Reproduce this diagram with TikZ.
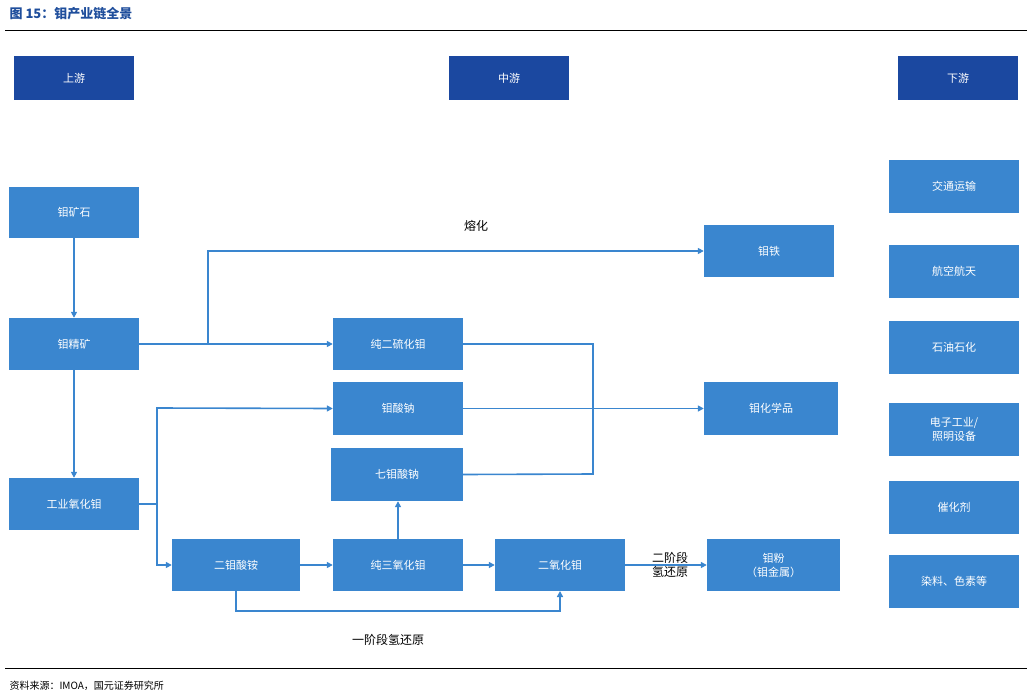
\documentclass[tikz,border=0pt]{standalone}
\usepackage{fontspec}
\setmainfont{Noto Sans CJK SC}
\usetikzlibrary{arrows.meta}
\definecolor{hdr}{HTML}{1B48A0}
\definecolor{bx}{HTML}{3A86CF}
\definecolor{ttl}{HTML}{1F4E9C}
\begin{document}
\begin{tikzpicture}[x=1pt,y=-1pt,
  box/.style={fill=bx,text=white,font=\fontsize{11}{14}\selectfont,align=center,inner sep=0pt},
  head/.style={fill=hdr,text=white,font=\fontsize{11}{14}\selectfont,inner sep=0pt},
  ar/.style={draw=bx,line width=1.6pt,-{Triangle[length=6pt,width=6pt]}},
  ln/.style={draw=bx,line width=1.6pt},
  lab/.style={font=\fontsize{12}{14}\selectfont,text=black,align=center}]
\useasboundingbox (0,0) rectangle (1032,698);
\node[anchor=west,text=ttl,font=\bfseries\fontsize{13}{15}\selectfont] (title) at (6,14) {图 15：钼产业链全景};
\draw[line width=1pt] (5,31) -- (1027,31);
\draw[line width=1pt] (5,668) -- (1027,668);
\node[anchor=west,font=\fontsize{10}{12}\selectfont] (src) at (6,686) {资料来源：IMOA，国元证券研究所};
\newcommand{\bxn}[6]{\node[#1,minimum width=#4-#2,minimum height=#5-#3] (#6) at ({(#2+#4)/2},{(#3+#5)/2})}
\bxn{head}{14}{56}{134}{100}{h1} {上游};
\bxn{head}{449}{56}{569}{100}{h2} {中游};
\bxn{head}{898}{56}{1018}{100}{h3} {下游};
\bxn{box}{9}{187}{139}{238}{ore} {钼矿石};
\bxn{box}{9}{318}{139}{370}{conc} {钼精矿};
\bxn{box}{9}{478}{139}{530}{tox} {工业氧化钼};
\bxn{box}{333}{318}{463}{370}{mos} {纯二硫化钼};
\bxn{box}{333}{382}{463}{435}{sm} {钼酸钠};
\bxn{box}{331}{448}{463}{501}{hsm} {七钼酸钠};
\bxn{box}{172}{539}{300}{591}{adm} {二钼酸铵};
\bxn{box}{333}{539}{463}{591}{moo3} {纯三氧化钼};
\bxn{box}{495}{539}{625}{591}{moo2} {二氧化钼};
\bxn{box}{704}{225}{834}{277}{fe} {钼铁};
\bxn{box}{704}{382}{838}{435}{chem} {钼化学品};
\bxn{box}{707}{539}{840}{591}{pow} {钼粉\\（钼金属）};
\bxn{box}{889}{160}{1019}{213}{d1} {交通运输};
\bxn{box}{889}{245}{1019}{298}{d2} {航空航天};
\bxn{box}{889}{321}{1019}{374}{d3} {石油石化};
\bxn{box}{889}{403}{1019}{456}{d4} {电子工业/\\照明设备};
\bxn{box}{889}{481}{1019}{534}{d5} {催化剂};
\bxn{box}{889}{555}{1019}{608}{d6} {染料、色素等};
\draw[ar] (ore) -- (conc);
\draw[ar] (conc) -- (tox);
\draw[ar] (conc) -- (mos);
\coordinate (b1) at (208,344);
\draw[ar] (b1) -- (208,251) -- (fe.west);
\node[lab] (l1) at (476,226) {熔化};
\draw[ln] (mos.east) -- (593,344) -- (593,474) -- (hsm.east);
\draw[ar] (sm) -- (chem);
\coordinate (b2) at (157,504);
\draw[ln] (tox.east) -- (b2);
\draw[ar] (b2) -- (157,408) -- (sm.west);
\draw[ar] (b2) -- (157,565) -- (adm.west);
\draw[ar] (adm) -- (moo3);
\draw[ar] (moo3) -- (moo2);
\draw[ar] (moo2) -- (pow);
\draw[ar] (moo3.north) -- (hsm.south -| moo3.north);
\draw[ar] (236,591) -- (236,611) -- (560,611) -- (560,591);
\node[lab] (l2) at (670,565) {二阶段\\氢还原};
\node[lab] (l3) at (388,640) {一阶段氢还原};
\end{tikzpicture}
\end{document}
